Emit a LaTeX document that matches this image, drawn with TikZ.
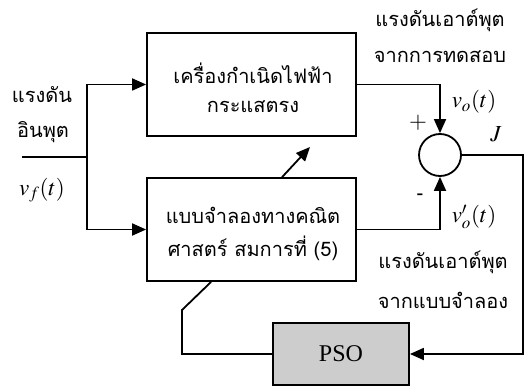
\documentclass[tikz,border=0pt]{standalone}
\usepackage{mathptmx}
\usepackage{fontspec}
\setmainfont{Liberation Serif}
\newfontfamily\thai[Script=Thai]{Loma}
\usetikzlibrary{arrows.meta}
\tikzset{
  ln/.style={line width=1.8pt},
  arr/.style={ln,-{Triangle[length=14pt,width=12pt]}},
  blk/.style={draw,line width=1.8pt,minimum width=209pt,minimum height=103pt,inner sep=0pt},
  th/.style={font=\thai\fontsize{20}{20}\selectfont,inner sep=0pt},
  mth/.style={font=\fontsize{23}{23}\selectfont,inner sep=0pt},
}
\begin{document}
\begin{tikzpicture}[x=1pt,y=-1pt]
\useasboundingbox (0,0) rectangle (526,387);
\node[blk] (gen) at (251.5,84.5) {};
\node[blk] (mod) at (251.5,229.5) {};
\node[draw,line width=1.8pt,circle,minimum size=42pt,inner sep=0pt] (sum) at (440,155) {};
\node[draw,line width=1.8pt,fill={rgb,255:red,205;green,205;blue,205},minimum width=136pt,minimum height=62pt,inner sep=0pt,font=\fontsize{24}{24}\selectfont] (pso) at (341,354) {PSO};
% texts
\node[th] (t1) at (253,73) {เครื่องกำเนิดไฟฟ้า};
\node[th] (t2) at (253,107) {กระแสตรง};
\node[th] (t3) at (253,215) {แบบจำลองทางคณิต};
\node[th] (t4) at (253,248) {ศาสตร์ สมการที่ (5)};
\node[th] (l1) at (42,95) {แรงดัน};
\node[th] (l2) at (43,132) {อินพุต};
\node[mth] (vf) at (42,190) {$v_f(t)$};
\node[th] (r1) at (440,20) {แรงดันเอาต์พุต};
\node[th] (r2) at (440,57) {จากการทดสอบ};
\node[th] (r3) at (443,262) {แรงดันเอาต์พุต};
\node[th] (r4) at (443,300) {จากแบบจำลอง};
\node[mth] (vo) at (474,102) {$v_o(t)$};
\node[mth] (vom) at (474,217) {$v'_o(t)$};
\node[mth] (jj) at (496,134) {$J$};
\node[mth] (plus) at (418,123) {$+$};
\node[font=\bfseries\fontsize{20}{20}\selectfont,inner sep=0pt] (minus) at (420,197) {-};
% connectors
\coordinate (in) at (22,157);
\coordinate (jn) at (87,157);
\draw[ln] (in) -- (jn);
\draw[arr] (jn) |- (gen.west);
\draw[arr] (jn) |- (mod.west);
\draw[arr] (gen.east) -| (sum.north);
\draw[arr] (mod.east) -| (sum.south);
\coordinate (rc) at (523,155);
\draw[arr] (sum.east) -- (rc) |- (pso.east);
\coordinate (fb1) at (182,354);
\coordinate (fb2) at (182,310);
\coordinate (fb3) at ([xshift=65pt]mod.south west);
\draw[ln] (pso.west) -- (fb1) -- (fb2) -- (fb3);
\coordinate (d1) at ([xshift=136pt]mod.north west);
\coordinate (d2) at (310,147);
\draw[arr] (d1) -- (d2);
\end{tikzpicture}
\end{document}
